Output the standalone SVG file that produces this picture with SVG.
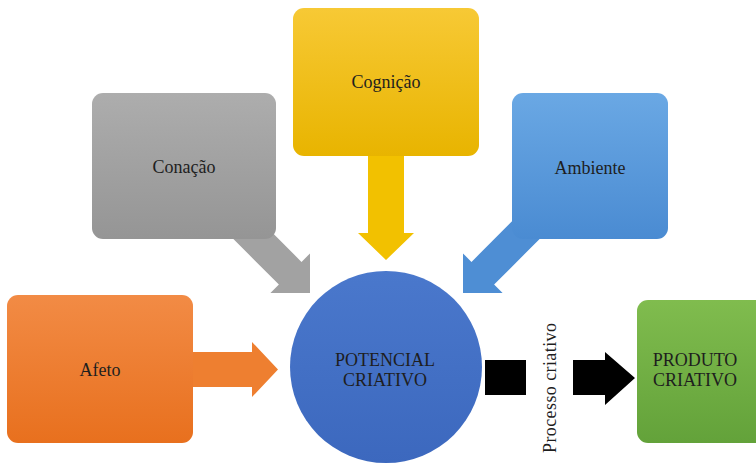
<svg xmlns="http://www.w3.org/2000/svg" width="756" height="465" viewBox="0 0 756 465">
  <defs>
    <linearGradient id="gOrange" x1="0" y1="0" x2="0" y2="1">
      <stop offset="0" stop-color="#F28B45"/>
      <stop offset="1" stop-color="#E8701E"/>
    </linearGradient>
    <linearGradient id="gGray" x1="0" y1="0" x2="0" y2="1">
      <stop offset="0" stop-color="#ADADAD"/>
      <stop offset="1" stop-color="#959595"/>
    </linearGradient>
    <linearGradient id="gYellow" x1="0" y1="0" x2="0" y2="1">
      <stop offset="0" stop-color="#F7C935"/>
      <stop offset="1" stop-color="#E8B400"/>
    </linearGradient>
    <linearGradient id="gBlue" x1="0" y1="0" x2="0" y2="1">
      <stop offset="0" stop-color="#6AA8E4"/>
      <stop offset="1" stop-color="#4A8BD2"/>
    </linearGradient>
    <linearGradient id="gGreen" x1="0" y1="0" x2="0" y2="1">
      <stop offset="0" stop-color="#80BC4E"/>
      <stop offset="1" stop-color="#63A23A"/>
    </linearGradient>
    <linearGradient id="gCircle" x1="0" y1="0" x2="0" y2="1">
      <stop offset="0" stop-color="#4A78CC"/>
      <stop offset="1" stop-color="#3C68BE"/>
    </linearGradient>
  </defs>
  <style>
    .lbl { font-family: "Liberation Serif", "Times New Roman", serif; font-size: 18px; fill: #1e1e1e; text-anchor: middle; }
  </style>

  <g id="connectors">
    <g id="arrow-afeto">
      <polygon points="180,352 252,352 252,342 278,369.5 252,397 252,387 180,387" fill="#EE7F30"/>
    </g>
    <g id="arrow-conacao" transform="translate(310,293) rotate(45)">
      <polygon points="-178,-16 -28,-16 -28,-28 0,0 -28,28 -28,16 -178,16" fill="#A2A2A2"/>
    </g>
    <g id="arrow-cognicao">
      <polygon points="368,150 404,150 404,233 414,233 386,260 358,233 368,233" fill="#F2C100"/>
    </g>
    <g id="arrow-ambiente" transform="translate(463,293) rotate(135)">
      <polygon points="-178,-16 -28,-16 -28,-28 0,0 -28,28 -28,16 -178,16" fill="#4E8ED4"/>
    </g>
    <g id="arrow-processo">
      <rect x="485" y="360" width="41" height="35" fill="#000"/>
      <polygon points="573,360 605,360 605,352 635,378 605,405 605,395 573,395" fill="#000"/>
    </g>
  </g>

  <g id="node-afeto">
    <rect x="7" y="295" width="186" height="148" rx="11" fill="url(#gOrange)"/>
    <text class="lbl" x="100" y="376">Afeto</text>
  </g>

  <g id="node-conacao">
    <rect x="92" y="93" width="184" height="146" rx="11" fill="url(#gGray)"/>
    <text class="lbl" x="184" y="173">Conação</text>
  </g>

  <g id="node-cognicao">
    <rect x="293" y="8" width="186" height="148" rx="11" fill="url(#gYellow)"/>
    <text class="lbl" x="386" y="88">Cognição</text>
  </g>

  <g id="node-ambiente">
    <rect x="512" y="93" width="156" height="146" rx="11" fill="url(#gBlue)"/>
    <text class="lbl" x="590" y="174">Ambiente</text>
  </g>

  <g id="node-potencial">
    <circle cx="386" cy="367" r="96" fill="url(#gCircle)"/>
    <text class="lbl" x="385" y="366">POTENCIAL</text>
    <text class="lbl" x="385" y="386">CRIATIVO</text>
  </g>

  <g id="node-produto">
    <rect x="637" y="300" width="130" height="143" rx="11" fill="url(#gGreen)"/>
    <text class="lbl" x="695" y="366">PRODUTO</text>
    <text class="lbl" x="695" y="386">CRIATIVO</text>
  </g>

  <g id="label-processo">
    <text class="lbl" transform="translate(556,388) rotate(-90)" x="0" y="0" textLength="130" lengthAdjust="spacing">Processo  criativo</text>
  </g>
</svg>
